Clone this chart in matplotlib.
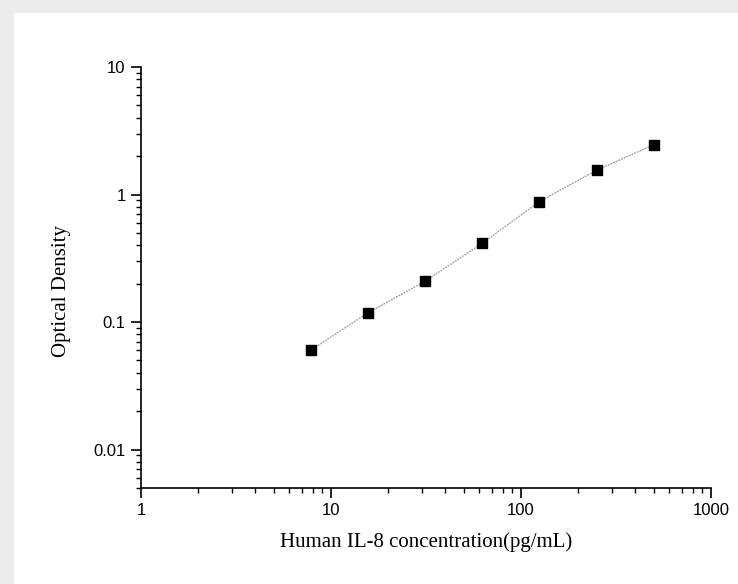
import matplotlib
matplotlib.use("Agg")
from matplotlib import pyplot as plt
from matplotlib.patches import Rectangle

# standard points
conc = [7.8125, 15.625, 31.25, 62.5, 125, 250, 500]
od = [0.060, 0.118, 0.209, 0.414, 0.88, 1.55, 2.46]

x_ticks = [1, 10, 100, 1000]
x_labels = ["1", "10", "100", "1000"]
y_ticks = [0.01, 0.1, 1, 10]
y_labels = ["0.01", "0.1", "1", "10"]

fig = plt.figure(figsize=(7.38, 5.84), dpi=100)
fig.patch.set_facecolor("#ececec")
fig.patches.append(Rectangle((14 / 738, 0), 1 - 14 / 738, 1 - 13 / 584,
                             transform=fig.transFigure, facecolor="white",
                             edgecolor="none", zorder=-1))

ax = fig.add_axes([141 / 738, 1 - 488 / 584, 570 / 738, 421 / 584])
ax.set_facecolor("none")
ax.set_zorder(2)

ax.plot(conc, od, color="#9a9a9a", lw=0.9, ls=(0, (1.5, 0.8)), zorder=2)
ax.plot(conc, od, ls="none", marker="s", ms=6.5, color="black", zorder=3)

ax.set_xscale("log")
ax.set_yscale("log")
ax.set_xlim(1, 1000)
ax.set_ylim(0.005, 10)
ax.set_xticks(x_ticks)
ax.set_xticklabels(x_labels)
ax.set_yticks(y_ticks)
ax.set_yticklabels(y_labels)

for s in ["top", "right"]:
    ax.spines[s].set_visible(False)
for s in ["left", "bottom"]:
    ax.spines[s].set_linewidth(1.2)

ax.tick_params(which="major", length=7, width=1.2, labelsize=12,
               direction="out", pad=4)
ax.tick_params(which="minor", length=3.5, width=1.0, direction="out")
for lab in ax.get_xticklabels() + ax.get_yticklabels():
    lab.set_fontfamily("Liberation Sans")

ax.set_xlabel("Human IL-8 concentration(pg/mL)", fontsize=15,
              family="Liberation Serif", labelpad=10)
ax.set_ylabel("Optical Density", fontsize=15, family="Liberation Serif")
ax.yaxis.set_label_coords(-0.122, 0.468)

fig.savefig("out.png", dpi=100, facecolor=fig.get_facecolor())
